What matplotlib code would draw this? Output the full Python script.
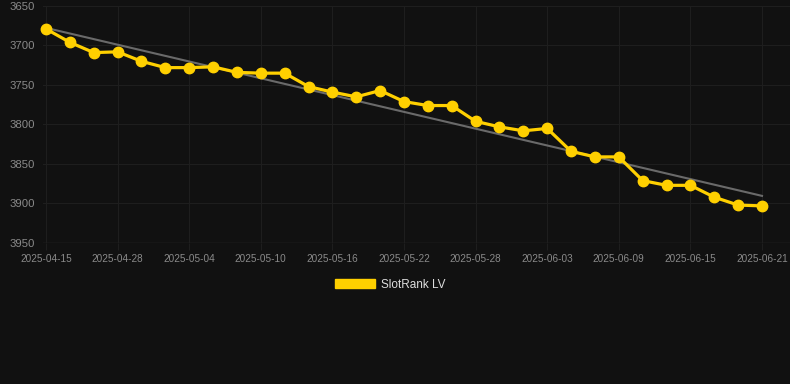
import numpy as np
import matplotlib.pyplot as plt
from matplotlib.patches import Patch

# SlotRank LV rank history (lower rank number at top)
dates = ['2025-04-15', '2025-04-24', '2025-04-26', '2025-04-28', '2025-04-30', '2025-05-02',
	'2025-05-04', '2025-05-06', '2025-05-08', '2025-05-10', '2025-05-12', '2025-05-14',
	'2025-05-16', '2025-05-18', '2025-05-20', '2025-05-22', '2025-05-24', '2025-05-26',
	'2025-05-28', '2025-05-30', '2025-06-01', '2025-06-03', '2025-06-05', '2025-06-07',
	'2025-06-09', '2025-06-11', '2025-06-13', '2025-06-15', '2025-06-17', '2025-06-19',
	'2025-06-21']
rank = [3679, 3696, 3709, 3708, 3720, 3728, 3728, 3727, 3734, 3735, 3735, 3752,
	3759, 3765, 3757, 3771, 3776, 3776, 3796, 3803, 3808, 3805, 3834, 3841,
	3841, 3871, 3877, 3877, 3892, 3902, 3903]
y_ticks = [3650, 3700, 3750, 3800, 3850, 3900, 3950]

bg = '#111111'
grid_col = '#1e1e1e'
yellow = '#FFD000'

plt.rcParams['font.family'] = ['Liberation Sans', 'DejaVu Sans']

fig = plt.figure(figsize=(7.9, 3.84), dpi=100)
fig.patch.set_facecolor(bg)
W, H = 790, 384
ax = fig.add_axes([43/W, 1-243/H, (790-43)/W, (243-6)/H])
ax.set_facecolor(bg)

x = np.arange(len(dates))
rank = np.array(rank)

# linear trend
coef = np.polyfit(x, rank, 1)
ax.plot(x, np.polyval(coef, x), color='#6a6a6a', lw=1.5, zorder=2)

ax.plot(x, rank, color=yellow, lw=2.3, marker='o', ms=7.5, zorder=3, clip_on=False)

ax.set_ylim(3950, 3650)
ax.set_yticks(y_ticks)
ax.set_xlim(-3/23.87, 30 + 28/23.87)
ax.set_xticks(x[::3])
ax.set_xticklabels(dates[::3])

for s in ax.spines.values():
	s.set_visible(False)
ax.grid(True, color=grid_col, lw=0.8)
ax.axhline(3950, color='#2c2c2c', lw=1, zorder=1)
ax.tick_params(axis='x', colors='#8a8a8a', labelsize=7.2, length=5, color=grid_col, pad=3)
ax.tick_params(axis='y', colors='#8a8a8a', labelsize=8.2, length=0, pad=6)

leg = fig.legend(handles=[Patch(facecolor=yellow, edgecolor=yellow, label='SlotRank LV')],
	loc='center', bbox_to_anchor=(390/W, 1-284.5/H), frameon=False,
	fontsize=8.5, handlelength=3.4, handleheight=0.9, handletextpad=0.5)
for t in leg.get_texts():
	t.set_color('#dddddd')

fig.savefig('out.png', dpi=100, facecolor=bg)
